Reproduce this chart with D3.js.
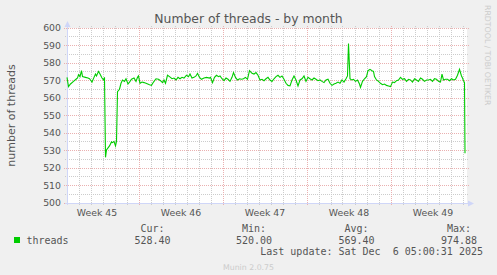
<!DOCTYPE html>
<html>
<head>
<meta charset="utf-8">
<script src="https://cdn.jsdelivr.net/npm/d3@7"></script>
<style>
  body { margin: 0; background: #f0f0f0; }
  svg { display: block; }
</style>
</head>
<body>
<svg id="chart" width="497" height="275"></svg>
<script>
// Hours since the left edge of the graph (Tue 4 Nov 2025 00:00) and thread counts
const hours = [0, 3, 7, 13, 18, 21, 23, 26, 29, 31, 37, 42, 45, 47, 50, 54, 57, 59, 63, 66,
  70, 73, 75, 77, 79, 85, 89, 91, 94, 97, 99, 101, 105, 108, 111, 115, 118, 122, 125, 129,
  134, 138, 141, 143, 146, 150, 154, 158, 165, 169, 173, 178, 183, 187, 191, 194, 197, 201, 205, 210,
  214, 218, 222, 226, 230, 234, 239, 243, 246, 250, 254, 258, 261, 265, 269, 274, 279, 285, 287, 291,
  295, 299, 303, 306, 310, 314, 318, 322, 326, 330, 333, 337, 341, 345, 349, 353, 357, 361, 365, 370,
  374, 378, 382, 386, 390, 394, 398, 402, 406, 410, 414, 418, 422, 426, 430, 434, 438, 442, 446, 450,
  454, 458, 462, 466, 470, 474, 478, 482, 486, 490, 494, 498, 502, 506, 510, 514, 518, 522, 526, 530,
  534, 538, 542, 546, 550, 554, 558, 561, 563, 566, 569, 573, 577, 581, 585, 587, 591, 595, 599, 602,
  606, 610, 613, 615, 619, 623, 627, 631, 635, 639, 643, 647, 651, 655, 659, 663, 667, 671, 675, 679,
  683, 687, 691, 695, 699, 703, 707, 711, 715, 719, 723, 727, 731, 735, 739, 743, 747, 750, 753, 757,
  761, 765, 769, 773, 777, 781, 785, 789, 791, 793, 795, 796];

const threads = [571.8, 566.5, 568.0, 569.5, 570.7, 571.4, 573.3, 572.2, 575.6, 572.2, 571.8, 571.4, 571.0, 570.3, 569.1, 571.8, 573.7, 572.6, 575.2, 573.7,
  571.4, 570.3, 571.8, 526.1, 530.3, 532.6, 534.9, 534.5, 535.2, 532.6, 535.2, 563.6, 565.0, 568.4, 570.3, 569.5, 571.0, 568.0, 569.1, 570.7,
  571.4, 569.5, 571.8, 572.6, 568.4, 569.1, 568.8, 568.4, 567.6, 567.2, 569.1, 571.0, 570.7, 569.9, 568.8, 570.3, 568.4, 573.0, 572.2, 571.0,
  571.4, 570.3, 571.8, 571.0, 571.8, 571.4, 573.0, 572.2, 573.7, 571.4, 571.8, 572.6, 574.1, 571.8, 570.7, 571.4, 571.8, 571.4, 571.8, 568.8,
  571.8, 573.0, 572.2, 572.6, 571.0, 569.9, 571.4, 570.7, 569.5, 571.8, 574.5, 571.8, 570.3, 571.0, 570.7, 571.0, 571.8, 570.7, 575.6, 574.1,
  573.7, 574.5, 573.0, 570.3, 570.7, 569.9, 571.0, 571.8, 570.3, 569.5, 571.0, 572.2, 573.0, 571.8, 572.6, 570.7, 568.4, 567.2, 566.9, 570.3,
  572.6, 570.3, 566.9, 570.3, 571.0, 572.6, 569.5, 571.8, 571.0, 570.3, 571.4, 570.7, 569.9, 570.3, 569.5, 568.8, 570.3, 570.7, 568.4, 567.2,
  568.0, 568.4, 569.1, 568.4, 570.3, 569.1, 571.0, 572.6, 591.2, 571.0, 570.3, 570.7, 569.5, 570.3, 568.0, 566.1, 569.5, 571.0, 572.2, 575.6,
  576.4, 575.6, 575.2, 572.2, 570.3, 569.5, 568.4, 567.6, 568.0, 567.2, 566.9, 566.5, 569.1, 568.8, 569.9, 570.3, 571.8, 570.7, 571.0, 569.5,
  570.7, 570.3, 569.1, 571.0, 570.3, 569.5, 571.4, 570.7, 569.5, 570.3, 570.3, 570.7, 569.5, 571.0, 570.7, 569.5, 569.1, 573.7, 570.3, 570.7,
  570.7, 569.9, 571.0, 570.3, 570.7, 573.0, 576.4, 572.6, 571.4, 569.9, 568.8, 528.4];

const yTicks = [500, 510, 520, 530, 540, 550, 560, 570, 580, 590, 600];
const legendHeaders = ["Cur:", "Min:", "Avg:", "Max:"];
const legendValues = ["528.40", "520.00", "569.40", "974.88"];

const svg = d3.select("#chart");
const gLeft = 67, gRight = 467, gTop = 28, gBottom = 203;
const sans = "'DejaVu Sans', sans-serif";
const mono = "'DejaVu Sans Mono', monospace";
const minorColor = "#cccccc";
const majorColor = "#eab0b0";

const start = new Date(Date.UTC(2025, 10, 4));
const end = d3.utcHour.offset(start, 800);

const x = d3.scaleUtc().domain([start, end]).range([gLeft, gRight]);
const y = d3.scaleLinear().domain([500, 600]).range([gBottom, gTop]);
const px = v => Math.floor(v) + 0.5;

// canvas
svg.append("rect")
  .attr("x", gLeft).attr("y", gTop)
  .attr("width", gRight - gLeft).attr("height", gBottom - gTop)
  .attr("fill", "#fff");

const grid = svg.append("g").attr("stroke-dasharray", "1,1");

// minor grid: days and every 5 threads
d3.utcDay.range(d3.utcDay.offset(start, 1), end)
  .filter(d => d.getUTCDay() !== 1)
  .forEach(d => {
    grid.append("line")
      .attr("x1", px(x(d))).attr("x2", px(x(d)))
      .attr("y1", gTop - 2).attr("y2", gBottom + 2)
      .attr("stroke", minorColor);
  });
d3.range(505, 600, 10).forEach(v => {
  grid.append("line")
    .attr("x1", gLeft - 2).attr("x2", gRight + 2)
    .attr("y1", px(y(v))).attr("y2", px(y(v)))
    .attr("stroke", minorColor);
});

// major grid: weeks and every 10 threads
d3.utcMonday.range(start, end).forEach(d => {
  grid.append("line")
    .attr("x1", px(x(d))).attr("x2", px(x(d)))
    .attr("y1", gTop - 2).attr("y2", gBottom + 3)
    .attr("stroke", majorColor);
});
yTicks.forEach(v => {
  grid.append("line")
    .attr("x1", gLeft - 3).attr("x2", gRight + 2)
    .attr("y1", px(y(v))).attr("y2", px(y(v)))
    .attr("stroke", majorColor);
});

// y tick labels
svg.append("g").selectAll("text")
  .data(yTicks)
  .enter()
  .append("text")
  .attr("x", 61)
  .attr("y", d => y(d))
  .attr("dy", "0.36em")
  .attr("text-anchor", "end")
  .attr("font-family", sans)
  .attr("font-size", 9.33)
  .attr("fill", "#555")
  .text(d => d);

// week labels centred in each week
const weekFmt = d3.utcFormat("%V");
svg.append("g").selectAll("text")
  .data(d3.utcMonday.range(d3.utcMonday.floor(start), end))
  .enter()
  .append("text")
  .attr("x", d => x(d3.utcHour.offset(d, 84)))
  .attr("y", 216)
  .attr("text-anchor", "middle")
  .attr("font-family", sans)
  .attr("font-size", 9.33)
  .attr("fill", "#555")
  .text(d => "Week " + (+weekFmt(d)));

// axes and arrows
const axisColor = "#cfd6f8";
svg.append("line")
  .attr("x1", gLeft - 2).attr("x2", gRight + 3)
  .attr("y1", gBottom + 0.5).attr("y2", gBottom + 0.5)
  .attr("stroke", axisColor);
svg.append("line")
  .attr("x1", gLeft + 0.5).attr("x2", gLeft + 0.5)
  .attr("y1", gBottom + 2).attr("y2", gTop - 3)
  .attr("stroke", axisColor);
svg.append("path")
  .attr("d", `M${gRight + 7},${gBottom + 0.5}L${gRight + 1},${gBottom - 2.5}L${gRight + 1},${gBottom + 3.5}Z`)
  .attr("fill", axisColor);
svg.append("path")
  .attr("d", `M${gLeft + 0.5},${gTop - 7}L${gLeft - 2.5},${gTop - 1}L${gLeft + 3.5},${gTop - 1}Z`)
  .attr("fill", axisColor);

// data line
const points = hours.map((h, i) => [d3.utcHour.offset(start, h), threads[i]]);
svg.append("path")
  .datum(points)
  .attr("fill", "none")
  .attr("stroke", "#00cc00")
  .attr("stroke-width", 1.1)
  .attr("d", d3.line().x(d => x(d[0])).y(d => y(d[1])));

// titles
svg.append("text")
  .attr("x", 248.5).attr("y", 23)
  .attr("text-anchor", "middle")
  .attr("font-family", sans).attr("font-size", 12.4)
  .attr("fill", "#555")
  .text("Number of threads - by month");

svg.append("text")
  .attr("transform", `translate(15,${(gTop + gBottom) / 2}) rotate(-90)`)
  .attr("text-anchor", "middle")
  .attr("font-family", sans).attr("font-size", 11)
  .attr("fill", "#555")
  .text("number of threads");

svg.append("text")
  .attr("transform", "translate(485.3,5) rotate(90)")
  .attr("font-family", sans).attr("font-size", 7.8)
  .attr("fill", "#cccccc")
  .text("RRDTOOL / TOBI OETIKER");

// legend
const colEnds = [170.5, 272, 374.5, 477];
svg.append("g").selectAll("text")
  .data(legendHeaders)
  .enter()
  .append("text")
  .attr("x", (d, i) => colEnds[i] - 6)
  .attr("y", 231.5)
  .attr("text-anchor", "end")
  .attr("font-family", mono).attr("font-size", 10)
  .attr("fill", "#555")
  .text(d => d);
svg.append("g").selectAll("text")
  .data(legendValues)
  .enter()
  .append("text")
  .attr("x", (d, i) => colEnds[i])
  .attr("y", 243.5)
  .attr("text-anchor", "end")
  .attr("font-family", mono).attr("font-size", 10)
  .attr("fill", "#555")
  .text(d => d);

svg.append("rect")
  .attr("x", 14).attr("y", 237)
  .attr("width", 6).attr("height", 6)
  .attr("fill", "#00cc00");
svg.append("text")
  .attr("x", 26.5).attr("y", 243.5)
  .attr("font-family", mono).attr("font-size", 10)
  .attr("fill", "#555")
  .text("threads");

svg.append("text")
  .attr("x", 483).attr("y", 254.5)
  .attr("text-anchor", "end")
  .attr("font-family", mono).attr("font-size", 10)
  .attr("fill", "#555")
  .style("white-space", "pre")
  .text("Last update: Sat Dec  6 05:00:31 2025");

svg.append("text")
  .attr("x", 248.5).attr("y", 269.5)
  .attr("text-anchor", "middle")
  .attr("font-family", sans).attr("font-size", 7.8)
  .attr("fill", "#cccccc")
  .text("Munin 2.0.75");
</script>
</body>
</html>
